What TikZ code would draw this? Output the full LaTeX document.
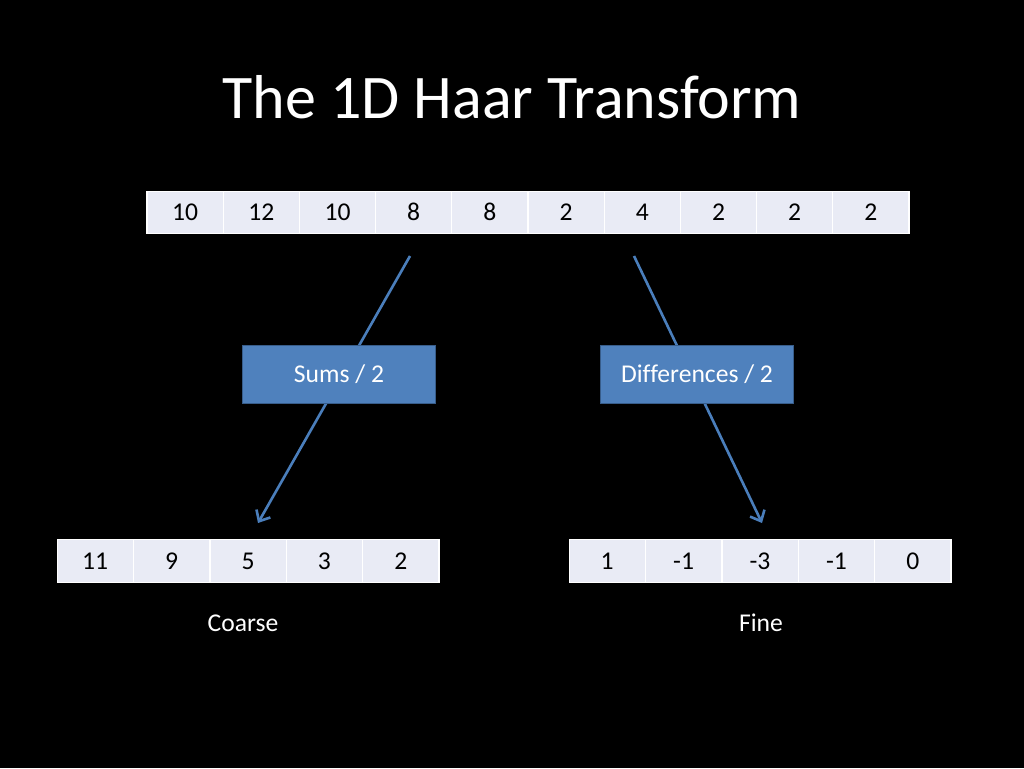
\documentclass[tikz,border=0pt]{standalone}
\usepackage{fontspec}
\setmainfont{Carlito}[Ligatures=NoCommon]
\usetikzlibrary{arrows.meta}
\usetikzlibrary{calc}

\definecolor{cellfill}{HTML}{E9EBF5}
\definecolor{boxfill}{HTML}{4F81BD}
\definecolor{boxline}{HTML}{385D8A}
\definecolor{arrowblue}{HTML}{4A7EBB}

\begin{document}
\begin{tikzpicture}[x=1pt, y=-1pt,
        every node/.style={font=\fontsize{25.6}{30}\selectfont},
        cell/.style={draw=white, line width=1.2pt, fill=cellfill, text=black,
            minimum width=76.2pt, minimum height=42.5pt, inner sep=0pt,
            text height=16.5pt, text depth=0pt},
        opbox/.style={draw=boxline, line width=1.5pt, fill=boxfill, text=white,
            minimum width=193pt, minimum height=58pt, inner sep=0pt},
        flow/.style={draw=arrowblue, line width=2.6pt,
            -{Straight Barb[length=9pt, width=16pt, line width=2.6pt]}}]
            % background
            \fill[black] (0,0) rectangle (1024,768);
            \useasboundingbox (0,0) rectangle (1024,768);

            % title
            \node[text=white, font=\fontsize{62}{70}\selectfont] (title) at (512,97) {The 1D Haar Transform};

            % arrow ends
            \coordinate (sumsIn) at (410,256);
            \coordinate (sumsOut) at (258,523);
            \coordinate (diffIn) at (634,256);
            \coordinate (diffOut) at (762,523);

            % arrows (behind the boxes)
            \draw[flow] (sumsIn) -- (sumsOut);
            \draw[flow] (diffIn) -- (diffOut);

            % input row
            \foreach \v [count=\i] in {10,12,10,8,8,2,4,2,2,2}
                \node[cell] (top\i) at ({147+76.2*(\i-0.5)},212.5) {\v};

            % coarse row
            \foreach \v [count=\i] in {11,9,5,3,2}
                \node[cell] (coarse\i) at ({57+76.4*(\i-0.5)},561) {\v};

            % fine row
            \foreach \v [count=\i] in {1,-1,-3,-1,0}
                \node[cell] (fine\i) at ({569+76.4*(\i-0.5)},561) {\v};

            % operations
            \node[opbox] (sums) at (339,374.5) {Sums / 2};
            \node[opbox] (diffs) at (697,374.5) {Differences / 2};

            % captions
            \node[text=white] (coarse) at (243,623) {Coarse};
            \node[text=white] (fine) at (761,623) {Fine};
        \end{tikzpicture}
\end{document}
